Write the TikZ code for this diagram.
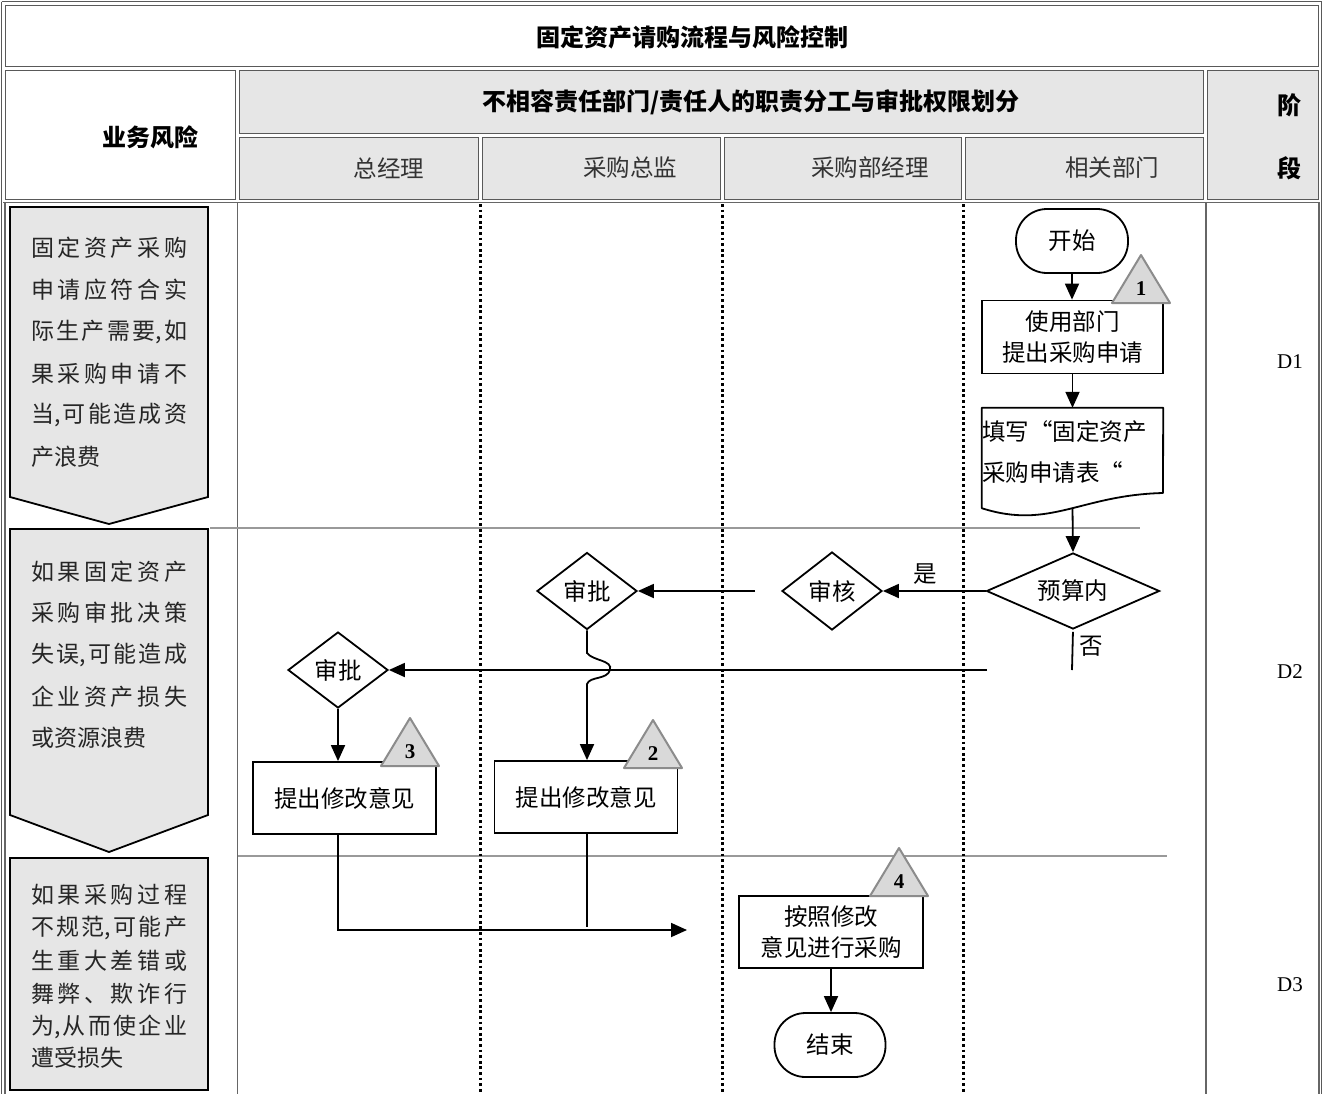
\documentclass[tikz,border=0pt]{standalone}
\usepackage{fontspec}
\setmainfont{Liberation Serif}
\newfontfamily\cjk{Noto Sans CJK SC}
\usetikzlibrary{arrows.meta,shapes.geometric}
\makeatletter
\def\jl@#1#2\@nil{#1\ifx\relax#2\relax\else\hfill\jl@#2\@nil\fi}
\newcommand\jline[1]{\hbox to 156pt{\jl@#1\@nil}}
\makeatother
\definecolor{hdr}{HTML}{E6E6E6}
\definecolor{trifill}{HTML}{D9D9D9}
\definecolor{tridraw}{HTML}{8C8C8C}
\definecolor{rulec}{HTML}{999999}
\newcommand\trimark[4]{%
  \filldraw[fill=trifill, draw=tridraw, line width=2pt, line join=round]
    (#2-29,#3+48) -- (#2,#3) -- (#2+29,#3+48) -- cycle;
  \node[font=\bfseries\fontsize{21}{24}\selectfont, inner sep=0pt] (#1) at (#2,#3+34) {#4};}
\begin{document}
\begin{tikzpicture}[x=1pt,y=-1pt,
  txt/.style={font=\cjk\fontsize{23.5}{31}\selectfont, inner sep=0pt, align=center},
  htxt/.style={font=\cjk\bfseries\fontsize{24}{28}\selectfont, inner sep=0pt},
  subtxt/.style={font=\cjk\fontsize{23.5}{27}\selectfont, inner sep=0pt, text=black!80},
  cell/.style={draw=black!65, line width=1pt},
  bodyline/.style={draw=black!60, line width=1.5pt},
  flowbox/.style={txt, draw, line width=1.8pt, minimum width=183pt, minimum height=72pt},
  term/.style={txt, draw, line width=1.8pt, rounded corners=31pt, minimum width=112pt, minimum height=64pt},
  dec/.style={txt, draw, line width=1.8pt, diamond, aspect=1.3},
  flow/.style={line width=1.8pt},
  arr/.style={flow, -{Triangle[length=16pt,width=14pt]}},
  lane/.style={line width=3pt, dash pattern=on 2.8pt off 2.8pt},
  sepline/.style={draw=rulec, line width=2pt},
  riskbox/.style={fill=hdr, draw=black, line width=1.8pt},
  rtxt/.style={font=\cjk\fontsize{23}{27}\selectfont, inner sep=0pt, anchor=west, text=black!85},
  phase/.style={font=\fontsize{21}{25}\selectfont, inner sep=0pt},
]
\useasboundingbox (0,0) rectangle (1323,1093);
\fill[white] (0,0) rectangle (1323,1093);

% ---------- header ----------
\draw[cell] (1.5,1.5) -- (1321.5,1.5) -- (1321.5,1100);
\draw[cell] (1.5,1.5) -- (1.5,1100);
\draw[cell] (5,5) rectangle (1318,66);
\draw[cell] (5,70) rectangle (235,199);
\filldraw[cell, fill=hdr] (239,70) rectangle (1203,133);
\filldraw[cell, fill=hdr] (239,137) rectangle (478,199);
\filldraw[cell, fill=hdr] (482,137) rectangle (720,199);
\filldraw[cell, fill=hdr] (724,137) rectangle (961,199);
\filldraw[cell, fill=hdr] (965,137) rectangle (1203,199);
\filldraw[cell, fill=hdr] (1207,70) rectangle (1318,199);

\node[htxt] (title) at (692,37) {固定资产请购流程与风险控制};
\node[htxt] (hdr) at (751,102) {不相容责任部门/责任人的职责分工与审批权限划分};
\node[htxt] (risk) at (150,137) {业务风险};
\node[htxt] (st1) at (1289,105) {阶};
\node[htxt] (st2) at (1289,168) {段};
\node[subtxt] (c1) at (389,168) {总经理};
\node[subtxt] (c2) at (630,168) {采购总监};
\node[subtxt] (c3) at (870,168) {采购部经理};
\node[subtxt] (c4) at (1112,168) {相关部门};

% ---------- body frame ----------
\draw[bodyline] (3,202.5) -- (1320,202.5);
\draw[bodyline] (5,203) -- (5,1100);
\draw[bodyline] (237.5,203) -- (237.5,1100);
\draw[bodyline] (1206,203) -- (1206,1100);
\draw[bodyline] (1319,203) -- (1319,1100);

\draw[sepline] (210,528) -- (1140,528);
\draw[sepline] (238,856) -- (1167,856);

\draw[lane] (480,204) -- (480,1095);
\draw[lane] (722,204) -- (722,1095);
\draw[lane] (963.5,204) -- (963.5,1095);

% ---------- risk boxes ----------
\draw[riskbox] (10,207) -- (208,207) -- (208,497) -- (109,524) -- (10,497) -- cycle;
\draw[riskbox] (10,529) -- (208,529) -- (208,815) -- (109,852) -- (10,815) -- cycle;
\draw[riskbox] (10,858) rectangle (208,1090);

\node[rtxt] (r1a) at (31,248) {\jline{固定资产采购}};
\node[rtxt] (r1b) at (31,290) {\jline{申请应符合实}};
\node[rtxt] (r1c) at (31,332) {\jline{际生产需{要,}如}};
\node[rtxt] (r1d) at (31,374) {\jline{果采购申请不}};
\node[rtxt] (r1e) at (31,415) {\jline{{当,}可能造成资}};
\node[rtxt] (r1f) at (31,457) {产浪费};

\node[rtxt] (r2a) at (31,572) {\jline{如果固定资产}};
\node[rtxt] (r2b) at (31,613) {\jline{采购审批决策}};
\node[rtxt] (r2c) at (31,655) {\jline{失{误,}可能造成}};
\node[rtxt] (r2d) at (31,697) {\jline{企业资产损失}};
\node[rtxt] (r2e) at (31,738) {或资源浪费};

\node[rtxt] (r3a) at (31,895) {\jline{如果采购过程}};
\node[rtxt] (r3b) at (31,928) {\jline{不规{范,}可能产}};
\node[rtxt] (r3c) at (31,961) {\jline{生重大差错或}};
\node[rtxt] (r3d) at (31,994) {\jline{舞弊、欺诈行}};
\node[rtxt] (r3e) at (31,1027) {\jline{{为,}从而使企业}};
\node[rtxt] (r3f) at (31,1058) {遭受损失};

% ---------- phases ----------
\node[phase] (d1) at (1290,362) {D1};
\node[phase] (d2) at (1290,672) {D2};
\node[phase] (d3) at (1290,985) {D3};

% ---------- flow nodes ----------
\node[term] (start) at (1072,241) {开始};
\node[flowbox, minimum width=181pt, minimum height=73pt] (req) at (1072.5,337) {使用部门\\提出采购申请};
\node[minimum width=181pt, minimum height=100pt, inner sep=0pt] (doc) at (1072.5,458) {};
\draw[flow, line join=round] (doc.north west) -- (doc.north east) -- (1163,493)
   .. controls (1080,495) and (1050,530) .. (doc.south west) -- cycle;
\node[txt, anchor=west] (doct1) at (982,432) {填写“固定资产};
\node[txt, anchor=west] (doct2) at (982,472) {采购申请表“};

\node[dec, minimum width=173pt, minimum height=76pt] (budget) at (1073,591) {预算内};
\node[dec, minimum width=100pt, minimum height=78pt] (review) at (832,591) {审核};
\node[dec, minimum width=100pt, minimum height=77pt] (appr2) at (587,591) {审批};
\node[dec, minimum width=100pt, minimum height=76pt] (appr1) at (338,670) {审批};
\node[flowbox] (box2) at (586,797) {提出修改意见};
\node[flowbox] (box3) at (344.5,798) {提出修改意见};
\node[flowbox, minimum width=184pt] (box4) at (831,932) {按照修改\\意见进行采购};
\node[term, minimum width=111pt] (finish) at (830,1045) {结束};

\node[txt] (yes) at (925,574) {是};
\node[txt] (no) at (1091,646) {否};

% ---------- connectors ----------
\draw[arr] (start.south) -- (req.north -| start.south);
\draw[arr] (req.south) -- (doc.north);
\draw[arr] (doc.south) -- (budget.north);
\draw[arr] (budget.west) -- (review.east);
\coordinate (revout) at (755,591);
\draw[arr] (revout) -- (appr2.east);
\coordinate (noend) at (1072,670);
\draw[flow, shorten <=2pt] (budget.south) -- (noend);
\coordinate (hstart) at (987,670);
\draw[arr] (hstart) -- (appr1.east);
\draw[arr] (appr2.south) -- (587,653) .. controls (593,661) and (613,660) .. (610,670)
   .. controls (607,680) and (590,676) .. (587,684) -- (appr2.south |- box2.north);
\draw[arr] (appr1.south) -- (appr1.south |- box3.north);
\coordinate (b3out) at (appr1.south |- box3.south);
\coordinate (tip) at (687,930);
\draw[arr] (b3out) |- (tip);
\coordinate (b2end) at (587,927);
\draw[flow] (appr2.south |- box2.south) -- (b2end);
\draw[arr] (box4.south) -- (finish.north -| box4.south);

% ---------- risk markers ----------
\trimark{t1}{1141}{255}{1}
\trimark{t2}{653}{720}{2}
\trimark{t3}{410}{718}{3}
\trimark{t4}{899}{848}{4}
\end{tikzpicture}
\end{document}
